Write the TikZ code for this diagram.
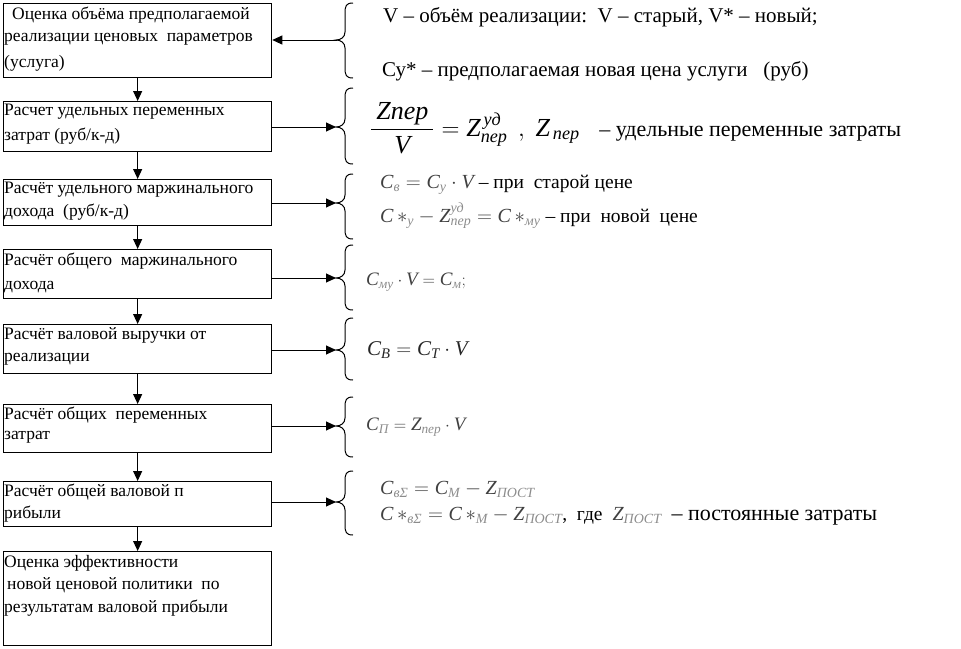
\documentclass[tikz,border=0pt]{standalone}
\usepackage{fontspec}
\usepackage{amsmath}
\setmainfont{Liberation Serif}
\usetikzlibrary{arrows.meta}
\newcommand\mv[1]{\text{\itshape #1}}
\newcommand\lo[1]{\text{\color{black!45}\itshape #1}}
\newcommand\txt[1]{\textcolor{black}{\fontsize{19.5}{22}\selectfont #1}}
\newcommand\curly[4]{%
 \draw[bracestyle] (#1+8,#2) .. controls (#1+1,#2) and (#1,#2+3) .. (#1,#2+10) -- (#1,#3-8) .. controls (#1,#3-3) and (#1-4,#3) .. (#1-9,#3) .. controls (#1-4,#3) and (#1,#3+3) .. (#1,#3+8) -- (#1,#4-10) .. controls (#1,#4-3) and (#1+1,#4) .. (#1+8,#4);}
\begin{document}
\begin{tikzpicture}[x=1pt,y=-1pt,
  box/.style={draw, line width=1.3pt, minimum width=268pt, minimum height=#1, inner sep=0pt, anchor=north west},
  arr/.style={line width=1pt, -{Triangle[length=10pt,width=9pt]}},
  bracestyle/.style={line width=1pt},
  bt/.style={anchor=west, inner sep=0pt, font=\fontsize{17.5}{20}\selectfont},
  rt/.style={anchor=west, inner sep=0pt, font=\fontsize{21}{24}\selectfont},
  fm/.style={anchor=west, inner sep=0pt, text=black!75, font=\fontsize{20}{23}\selectfont}]
\useasboundingbox (0,0) rectangle (961,648);
% boxes
\node[box=74pt] (b1) at (3,3) {};
\node[box=50pt] (b2) at (3,101) {};
\node[box=46pt] (b3) at (3,179) {};
\node[box=49pt] (b4) at (3,249) {};
\node[box=49pt] (b5) at (3,324) {};
\node[box=48pt] (b6) at (3,404) {};
\node[box=45pt] (b7) at (3,481) {};
\node[box=94pt] (b8) at (3,551) {};
% box texts
\node[bt] (t1a) at (12,15) {Оценка объёма предполагаемой};
\node[bt] (t1b) at (4,39) {реализации ценовых\ \ параметров};
\node[bt] (t1c) at (4,63) {(услуга)};
\node[bt] (t2a) at (4,112) {Расчет удельных переменных};
\node[bt] (t2b) at (4,136) {затрат (руб/к-д)};
\node[bt] (t3a) at (4,190) {Расчёт удельного маржинального};
\node[bt] (t3b) at (4,212) {дохода\ \ (руб/к-д)};
\node[bt] (t4a) at (4,261) {Расчёт общего\ \ маржинального};
\node[bt] (t4b) at (4,287) {дохода};
\node[bt] (t5a) at (4,335) {Расчёт валовой выручки от};
\node[bt] (t5b) at (4,359) {реализации};
\node[bt] (t6a) at (4,415) {Расчёт общих\ \ переменных};
\node[bt] (t6b) at (4,437) {затрат};
\node[bt] (t7a) at (4,492) {Расчёт общей валовой п};
\node[bt] (t7b) at (4,514) {рибыли};
\node[bt] (t8a) at (4,563) {Оценка эффективности};
\node[bt] (t8b) at (7,585) {новой ценовой политики\ \ по};
\node[bt] (t8c) at (4,608) {результатам валовой прибыли};
% vertical arrows
\draw[arr] (b1.south) -- (b2.north);
\draw[arr] (b2.south) -- (b3.north);
\draw[arr] (b3.south) -- (b4.north);
\draw[arr] (b4.south) -- (b5.north);
\draw[arr] (b5.south) -- (b6.north);
\draw[arr] (b6.south) -- (b7.north);
\draw[arr] (b7.south) -- (b8.north);
% braces
\curly{345}{3}{40}{78}
\curly{345}{88}{127}{164}
\curly{345}{174}{203}{239}
\curly{345}{245}{278}{310}
\curly{345}{318}{350}{380}
\curly{345}{397}{426}{457}
\curly{345}{471}{502}{535}
\coordinate (k1) at (337,40);
\coordinate (k2) at (336,127);
\coordinate (k3) at (336,203);
\coordinate (k4) at (336,278);
\coordinate (k5) at (336,350);
\coordinate (k6) at (336,426);
\coordinate (k7) at (336,502);
% horizontal arrows
\draw[arr] (k1) -- (b1.east |- k1);
\draw[arr] (b2.east |- k2) -- (k2);
\draw[arr] (b3.east |- k3) -- (k3);
\draw[arr] (b4.east |- k4) -- (k4);
\draw[arr] (b5.east |- k5) -- (k5);
\draw[arr] (b6.east |- k6) -- (k6);
\draw[arr] (b7.east |- k7) -- (k7);
% right texts
\node[rt] (r1a) at (383,17) {V – объём реализации:\ \ V – старый, V* – новый;};
\node[rt] (r1b) at (382,71) {Су* – предполагаемая новая цена услуги\ \ \ (руб)};
\node[fm, text=black, font=\fontsize{26}{29}\selectfont] (r2) at (370,128) {$\dfrac{\hskip5pt\mv{Zпер}\hskip5pt}{\mv{V}} = \mv{Z}^{\,\mv{уд}}_{\mv{пер}}\ \,,\ \mv{Z}_{\,\mv{пер}}$\ \ \ {\fontsize{22}{25}\selectfont – удельные переменные затраты}};
\node[fm] (r3a) at (380,185) {$\mv{C}_{\lo{в}} = \mv{C}_{\lo{у}}\cdot\mv{V}$ \txt{– при\ \ старой цене}};
\node[fm] (r3b) at (380,216) {$\mv{C}\,{*}_{\lo{у}} -\mv{Z}^{\lo{уд}}_{\lo{пер}} = \mv{C}\,{*}_{\lo{му}}$ \txt{– при\ \ новой\ \ цене}};
\node[fm, font=\fontsize{19}{22}\selectfont] (r4) at (366,282) {$\mv{C}_{\lo{му}}\cdot\mv{V} = \mv{C}_{\lo{м}};$};
\node[fm, text=black!85, font=\fontsize{21}{24}\selectfont] (r5) at (367,350) {$\mv{C}_{\mv{B}} = \mv{C}_{\mv{Т}}\cdot\mv{V}$};
\node[fm, font=\fontsize{19}{22}\selectfont] (r6) at (366,427) {$\mv{C}_{\lo{П}} = \mv{Z}_{\lo{пер}}\cdot\mv{V}$};
\node[fm] (r7a) at (380,489) {$\mv{C}_{\lo{вΣ}} = \mv{C}_{\lo{М}} - \mv{Z}_{\lo{ПОСТ}}$};
\node[fm] (r7b) at (380,516) {$\mv{C}\,{*}_{\lo{вΣ}} = \mv{C}\,{*}_{\lo{М}} -\mv{Z}_{\lo{ПОСТ}}$\txt{,\ \ где}\ \ $\mv{Z}_{\lo{ПОСТ}}$\ \ \textcolor{black}{\fontsize{22}{25}\selectfont – постоянные затраты}};
\end{tikzpicture}
\end{document}
